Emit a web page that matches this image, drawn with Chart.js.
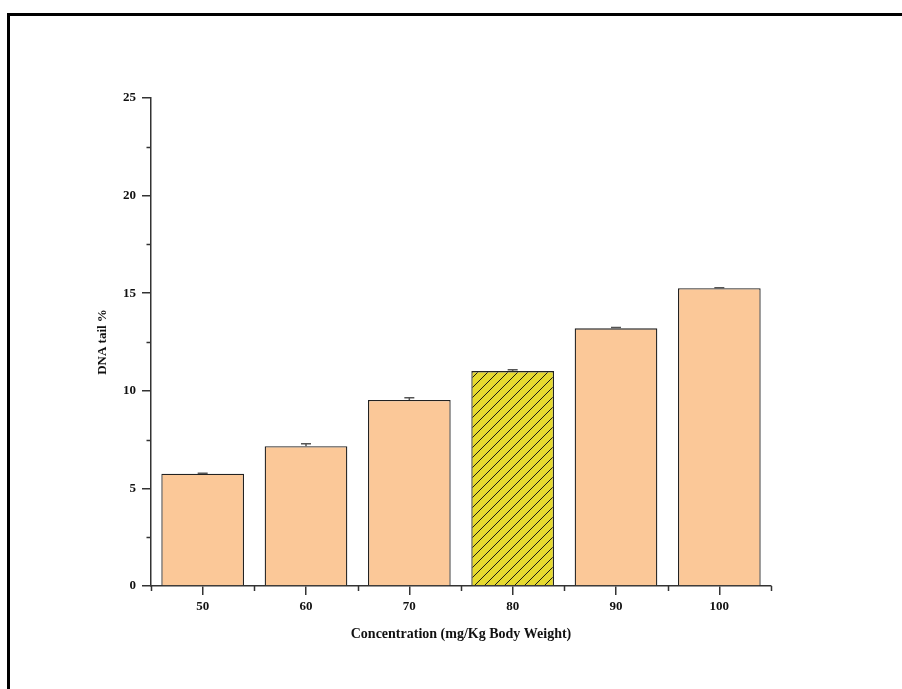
<!DOCTYPE html>
<html>
<head>
<meta charset="utf-8">
<script src="https://cdn.jsdelivr.net/npm/chart.js@4.4.1/dist/chart.umd.min.js"></script>
<style>
  html, body { margin: 0; padding: 0; background: #fff; }
  #wrap { width: 902px; height: 689px; position: relative; }
</style>
</head>
<body>
<div id="wrap"><canvas id="c" width="902" height="689"></canvas></div>
<script>
const categories = ['50', '60', '70', '80', '90', '100'];
const tailValues = [5.75, 7.16, 9.53, 11.01, 13.2, 15.25];
const tailErrors = [0.02, 0.13, 0.12, 0.07, 0.04, 0.03];
const yTicks = [0, 5, 10, 15, 20, 25];
const yMinorTicks = [2.5, 7.5, 12.5, 17.5, 22.5];
const hatchedIndex = 3;

const FONT = "'Liberation Serif', 'Times New Roman', serif";
const AXIS = '#333333';

function hatchPattern() {
  const p = document.createElement('canvas');
  p.width = 10; p.height = 10;
  const g = p.getContext('2d');
  g.fillStyle = '#e6da2f';
  g.fillRect(0, 0, 10, 10);
  g.strokeStyle = '#1a1a1a';
  g.lineWidth = 1;
  g.beginPath();
  g.moveTo(0, 10); g.lineTo(10, 0);
  g.moveTo(-5, 5); g.lineTo(5, -5);
  g.moveTo(5, 15); g.lineTo(15, 5);
  g.stroke();
  return g.createPattern(p, 'repeat');
}

const ctx = document.getElementById('c').getContext('2d');
const hatch = hatchPattern();
const colors = categories.map((c, i) => i === hatchedIndex ? hatch : '#fbc898');

const framePlugin = {
  id: 'frame',
  beforeDraw(chart) {
    const g = chart.ctx;
    g.save();
    g.fillStyle = '#fff';
    g.fillRect(0, 0, chart.width, chart.height);
    g.strokeStyle = '#000';
    g.lineWidth = 3;
    g.strokeRect(8.5, 14.5, 1200, 1200);
    g.restore();
  }
};

const extrasPlugin = {
  id: 'extras',
  afterDatasetsDraw(chart) {
    const g = chart.ctx;
    const ys = chart.scales.y, xs = chart.scales.x;
    const meta = chart.getDatasetMeta(0);
    g.save();
    // error bars
    g.strokeStyle = '#555';
    g.lineWidth = 1.5;
    tailValues.forEach((v, i) => {
      const x = meta.data[i].x;
      const yTop = ys.getPixelForValue(v + tailErrors[i]);
      const yBar = ys.getPixelForValue(v);
      g.beginPath();
      g.moveTo(x, yBar); g.lineTo(x, yTop);
      g.moveTo(x - 5, yTop); g.lineTo(x + 5, yTop);
      g.stroke();
    });
    g.restore();
  },
  afterDraw(chart) {
    const g = chart.ctx;
    const ys = chart.scales.y, xs = chart.scales.x;
    g.save();
    g.strokeStyle = AXIS;
    g.lineWidth = 1.5;
    // y minor ticks
    yMinorTicks.forEach(v => {
      const y = Math.round(ys.getPixelForValue(v)) + 0.5;
      g.beginPath();
      g.moveTo(ys.right - 4.5, y); g.lineTo(ys.right, y);
      g.stroke();
    });
    // x minor ticks at category boundaries
    for (let i = 0; i <= categories.length; i++) {
      const x = Math.round(xs.getPixelForValue(i - 0.5)) + 0.5;
      g.beginPath();
      g.moveTo(x, xs.top); g.lineTo(x, xs.top + 5);
      g.stroke();
    }
    g.restore();
  }
};

new Chart(ctx, {
  type: 'bar',
  data: {
    labels: categories,
    datasets: [{
      data: tailValues,
      backgroundColor: colors,
      borderColor: '#222',
      borderWidth: 1.3,
      barPercentage: 0.8,
      categoryPercentage: 1.0
    }]
  },
  options: {
    responsive: false,
    animation: false,
    devicePixelRatio: 1,
    layout: { padding: { left: 95, top: 98, right: 131, bottom: 46 } },
    plugins: { legend: { display: false }, tooltip: { enabled: false } },
    scales: {
      x: {
        afterFit(s) { s.height = 57; },
        grid: { display: true, drawOnChartArea: false, drawTicks: true, tickLength: 9, offset: false, color: AXIS, lineWidth: 1.5 },
        border: { display: true, color: AXIS, width: 1.5 },
        ticks: { color: '#111', padding: 4, font: { family: FONT, size: 13, weight: 'bold' } },
        title: { display: true, text: 'Concentration (mg/Kg Body Weight)', color: '#111', padding: 0,
                 font: { family: FONT, size: 14, weight: 'bold' } }
      },
      y: {
        min: 0, max: 25,
        afterFit(s) { s.width = 56; },
        afterBuildTicks(s) { s.ticks = yTicks.map(v => ({ value: v })); },
        grid: { display: true, drawOnChartArea: false, drawTicks: true, tickLength: 9, color: AXIS, lineWidth: 1.5 },
        border: { display: true, color: AXIS, width: 1.5 },
        ticks: { color: '#111', padding: 6, font: { family: FONT, size: 13, weight: 'bold' } },
        title: { display: true, text: 'DNA tail %', color: '#111', padding: 0,
                 font: { family: FONT, size: 13, weight: 'bold' } }
      }
    }
  },
  plugins: [framePlugin, extrasPlugin]
});
</script>
</body>
</html>
